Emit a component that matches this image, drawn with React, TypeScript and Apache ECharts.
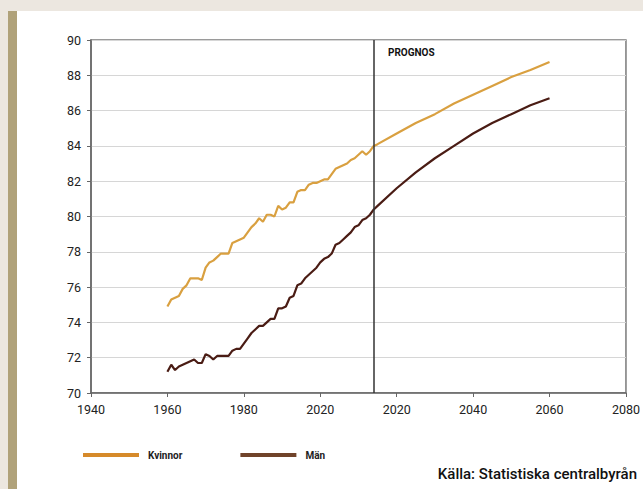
import React, { useEffect, useRef } from "react";
import * as echarts from "echarts";

const histYears = [
  1960, 1961, 1962, 1963, 1964, 1965, 1966, 1967, 1968, 1969,
  1970, 1971, 1972, 1973, 1974, 1975, 1976, 1977, 1978, 1979,
  1980, 1981, 1982, 1983, 1984, 1985, 1986, 1987, 1988, 1989,
  1990, 1991, 1992, 1993, 1994, 1995, 1996, 1997, 1998, 1999,
  2000, 2001, 2002, 2003, 2004, 2005, 2006, 2007, 2008, 2009,
  2010, 2011, 2012, 2013, 2014,
];
const womenHist = [
  74.9, 75.3, 75.4, 75.5, 75.9, 76.1, 76.5, 76.5, 76.5, 76.4,
  77.1, 77.4, 77.5, 77.7, 77.9, 77.9, 77.9, 78.5, 78.6, 78.7,
  78.8, 79.1, 79.4, 79.6, 79.9, 79.7, 80.1, 80.1, 80.0, 80.6,
  80.4, 80.5, 80.8, 80.8, 81.4, 81.5, 81.5, 81.8, 81.9, 81.9,
  82.0, 82.1, 82.1, 82.4, 82.7, 82.8, 82.9, 83.0, 83.2, 83.3,
  83.5, 83.7, 83.5, 83.7, 84.0,
];
const menHist = [
  71.2, 71.6, 71.3, 71.5, 71.6, 71.7, 71.8, 71.9, 71.7, 71.7,
  72.2, 72.1, 71.9, 72.1, 72.1, 72.1, 72.1, 72.4, 72.5, 72.5,
  72.8, 73.1, 73.4, 73.6, 73.8, 73.8, 74.0, 74.2, 74.2, 74.8,
  74.8, 74.9, 75.4, 75.5, 76.1, 76.2, 76.5, 76.7, 76.9, 77.1,
  77.4, 77.6, 77.7, 77.9, 78.4, 78.5, 78.7, 78.9, 79.1, 79.4,
  79.5, 79.8, 79.9, 80.1, 80.4,
];
const progYears = [2015, 2020, 2025, 2030, 2035, 2040, 2045, 2050, 2055, 2060];
const womenProg = [84.1, 84.7, 85.3, 85.8, 86.4, 86.9, 87.4, 87.9, 88.3, 88.75];
const menProg = [80.6, 81.6, 82.5, 83.3, 84.0, 84.7, 85.3, 85.8, 86.3, 86.7];

const xTickLabels = ["1940", "1960", "1980", "2020", "2020", "2040", "2060", "2080"];
const prognosYear = 2014;
const seriesNames = ["Kvinnor", "Män"];

const FONT = "Roboto, 'DejaVu Sans', sans-serif";

function pairs(years: number[], vals: number[]) {
  return years.map((y, i) => [y, vals[i]]);
}

export default function App() {
  const ref = useRef<HTMLDivElement>(null);
  useEffect(() => {
    document.body.style.margin = "0";
    const chart = echarts.init(ref.current!, null, { renderer: "svg" });
    const women = pairs(histYears, womenHist).concat(pairs(progYears, womenProg));
    const men = pairs(histYears, menHist).concat(pairs(progYears, menProg));
    chart.setOption({
      animation: false,
      backgroundColor: "#ffffff",
      textStyle: { fontFamily: FONT },
      grid: {
        left: 91,
        right: 16,
        top: 40,
        bottom: 96,
        show: true,
        borderColor: "#7a7a7a",
        borderWidth: 1.5,
        backgroundColor: "transparent",
      },
      xAxis: {
        type: "value",
        min: 1940,
        max: 2080,
        interval: 20,
        axisLine: { show: true, lineStyle: { color: "#666", width: 1.5 } },
        axisTick: { show: true, length: 4, inside: false, lineStyle: { color: "#666" } },
        splitLine: { show: false },
        axisLabel: {
          color: "#222",
          fontSize: 12.5,
          fontFamily: FONT,
          margin: 10,
          formatter: (v: number) => xTickLabels[Math.round((v - 1940) / 20)] ?? "",
        },
      },
      yAxis: {
        type: "value",
        min: 70,
        max: 90,
        interval: 2,
        axisLine: { show: true, lineStyle: { color: "#666", width: 1.5 } },
        axisTick: { show: true, length: 4, lineStyle: { color: "#666" } },
        splitLine: { show: true, lineStyle: { color: "#d6d6d6", width: 1.2 } },
        axisLabel: { color: "#222", fontSize: 12.5, fontFamily: FONT, margin: 10 },
      },
      legend: {
        left: 78,
        top: 445,
        itemWidth: 56,
        itemHeight: 4,
        itemGap: 58,
        icon: "rect",
        textStyle: { fontSize: 10, fontWeight: "bold", color: "#222", fontFamily: FONT, padding: [0, 0, 0, 4] },
        data: [
          { name: seriesNames[0], itemStyle: { color: "#d68a2a" } },
          { name: seriesNames[1], itemStyle: { color: "#70432a" } },
        ],
      },
      series: [
        {
          name: seriesNames[0],
          type: "line",
          data: women,
          showSymbol: false,
          symbol: "none",
          lineStyle: { color: "#d9a040", width: 2.2 },
          itemStyle: { color: "#d68a2a" },
          markLine: {
            silent: true,
            symbol: "none",
            label: { show: false },
            lineStyle: { color: "#333", width: 1.5, type: "solid" },
            data: [{ xAxis: prognosYear }],
          },
        },
        {
          name: seriesNames[1],
          type: "line",
          data: men,
          showSymbol: false,
          symbol: "none",
          lineStyle: { color: "#4a1c14", width: 2.2 },
          itemStyle: { color: "#70432a" },
        },
      ],
      graphic: [
        { type: "rect", left: 0, top: 0, shape: { width: 643, height: 11 }, style: { fill: "#ece7e0" } },
        { type: "rect", left: 0, top: 11, shape: { width: 8, height: 478 }, style: { fill: "#ece7e0" } },
        { type: "rect", left: 8, top: 11, shape: { width: 9, height: 478 }, style: { fill: "#b0a27a" } },
        {
          type: "text",
          left: 388,
          top: 47,
          style: { text: "PROGNOS", fill: "#111", font: `bold 10px ${FONT}` },
        },
        {
          type: "text",
          right: 6,
          top: 466,
          style: { text: "Källa: Statistiska centralbyrån", fill: "#111", font: `500 15px ${FONT}` },
        },
      ],
    });
    return () => chart.dispose();
  }, []);
  return <div ref={ref} style={{ width: 643, height: 489 }} />;
}
